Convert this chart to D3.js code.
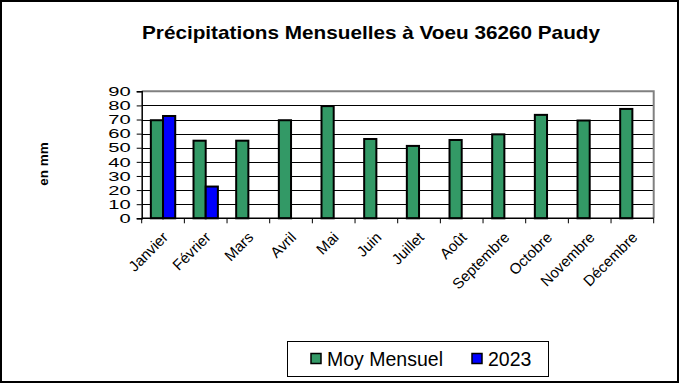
<!DOCTYPE html>
<html><head><meta charset="utf-8">
<script src="https://cdn.jsdelivr.net/npm/d3@7"></script>
<style>body{margin:0;background:#fff}svg{display:block;font-family:"Liberation Sans",Arial,sans-serif}</style>
</head><body><svg id="c" width="679" height="383"></svg>
<script>
const months = ["Janvier","Février","Mars","Avril","Mai","Juin","Juillet","Août","Septembre","Octobre","Novembre","Décembre"];
const moyMensuel = [69.5,55,55,69.5,79.5,56.2,51.3,55.5,59.5,73.3,69.3,77.5];
const y2023 = [72.5,22.5,null,null,null,null,null,null,null,null,null,null];
const seriesNames = ["Moy Mensuel","2023"];
const seriesColors = ["#339966","#0000FF"];
const yTicks = [0,10,20,30,40,50,60,70,80,90];

const svg = d3.select("#c");
svg.append("rect").attr("x",1).attr("y",1).attr("width",677).attr("height",381)
  .attr("fill","#fff").attr("stroke","#000").attr("stroke-width",2);

const L=141.7,R=653.7,T=91.3,B=218.3;
const x = d3.scaleBand().domain(months).range([L,R]).padding(0);
const y = d3.scaleLinear().domain([0,90]).range([B,T]);
const bw = x.bandwidth()/3.5;

svg.append("g").selectAll("line").data(yTicks.filter(d=>d>0&&d<90)).join("line")
  .attr("x1",L).attr("x2",R).attr("y1",d=>Math.round(y(d))+0.5).attr("y2",d=>Math.round(y(d))+0.5)
  .attr("stroke","#000").attr("stroke-width",1);
svg.append("path").attr("d",`M${L},${T}H${R}V${B}`).attr("fill","none").attr("stroke","#808080").attr("stroke-width",2);

const sets=[moyMensuel,y2023];
sets.forEach((vals,si)=>{
  svg.append("g").selectAll("rect").data(months.map((m,i)=>({m,v:vals[i]})).filter(d=>d.v!=null)).join("rect")
    .attr("x",d=>x(d.m)+0.75*bw+si*bw).attr("width",bw)
    .attr("y",d=>y(d.v)).attr("height",d=>B-y(d.v))
    .attr("fill",seriesColors[si]).attr("stroke","#000").attr("stroke-width",2);
});

const ya = svg.append("g").attr("transform",`translate(${L},0)`)
  .call(d3.axisLeft(y).tickValues(yTicks).tickSize(5).tickPadding(6));
ya.select(".domain").attr("stroke","#000").attr("stroke-width",1.5);
ya.selectAll(".tick line").attr("stroke","#000");
ya.selectAll(".tick text").attr("font-size",13).attr("fill","#000")
  .attr("font-family","Liberation Sans, Arial, sans-serif")
  .each(function(){const t=d3.select(this);t.attr("x",null).attr("transform",`translate(-11,0) scale(1.55,1)`);});

const xa = svg.append("g").attr("transform",`translate(0,${B})`);
xa.append("line").attr("x1",L).attr("x2",R).attr("y1",0).attr("y2",0).attr("stroke","#000").attr("stroke-width",1.5);
xa.selectAll("line.tk").data(d3.range(13)).join("line").attr("class","tk")
  .attr("x1",i=>L+i*x.bandwidth()).attr("x2",i=>L+i*x.bandwidth()).attr("y1",0).attr("y2",5).attr("stroke","#000");
xa.selectAll("text").data(months).join("text")
  .attr("text-anchor","end").attr("font-size",15).attr("fill","#000")
  .attr("transform",d=>`translate(${x(d)+x.bandwidth()/2+6},${20}) rotate(-45)`)
  .text(d=>d);

svg.append("text").attr("x",371).attr("y",39).attr("text-anchor","middle")
  .attr("font-weight","bold").attr("font-size",18.5)
  .attr("textLength",458).attr("lengthAdjust","spacingAndGlyphs")
  .text("Précipitations Mensuelles à Voeu 36260 Paudy");
svg.append("text").attr("transform","translate(48,164) rotate(-90)").attr("text-anchor","middle")
  .attr("font-weight","bold").attr("font-size",13.5).text("en mm");

const lg = svg.append("g");
lg.append("rect").attr("x",287.5).attr("y",341.5).attr("width",261).attr("height",35).attr("fill","#fff").attr("stroke","#000");
const lx=[311,472];
seriesNames.forEach((n,i)=>{
  lg.append("rect").attr("x",lx[i]).attr("y",353.5).attr("width",10).attr("height",10)
    .attr("fill",seriesColors[i]).attr("stroke","#000").attr("stroke-width",1.5);
  lg.append("text").attr("x",lx[i]+16).attr("y",365.5).attr("font-size",19.5).text(n);
});
</script></body></html>
